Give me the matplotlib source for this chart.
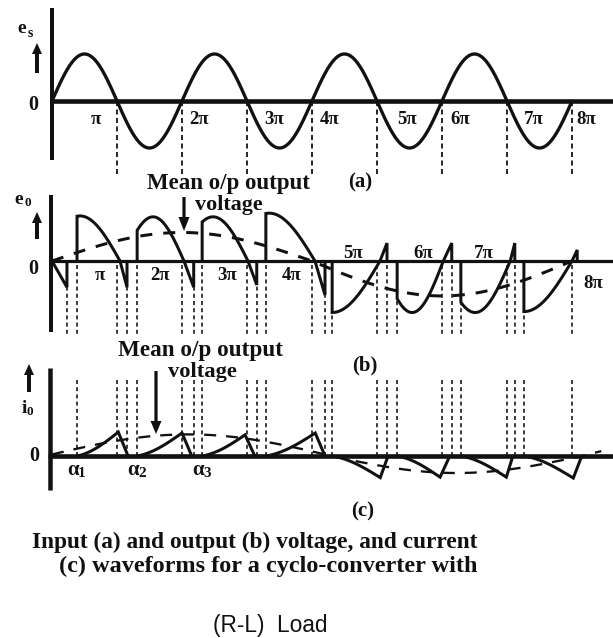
import numpy as np
import matplotlib
matplotlib.use('Agg')
import matplotlib.pyplot as plt
from matplotlib.patches import FancyArrow

W, H, DPI = 613, 638, 100
plt.rcParams['lines.scale_dashes'] = False
plt.rcParams['lines.solid_capstyle'] = 'butt'
PX = 72.0 / DPI          # points per pixel

# ------------------------------------------------------------------ data
# angles are in multiples of pi
pi_labels = ['π', '2π', '3π', '4π', '5π', '6π', '7π', '8π']

# (a) input voltage
n_half_cycles = 8
input_amp = 1.0
a_label_x = [0.68, 2.27, 3.42, 4.27, 5.46, 6.28, 7.42, 8.22]
a_label_y = -0.49

# (b) output voltage: one segment per input half cycle
tail0_end, tail0_val = 0.23, -0.57
seg_fire = [0.385, 1.31, 2.31, 3.29, 4.31, 5.31, 6.29, 7.26]
seg_peak = [0.43, 1.554, 2.477, 3.34, 4.31, 5.54, 6.51, 7.26]
seg_zero = [1.046, 2.03, 3.015, 4.046, 5.046, 6.02, 7.05, 8.0]
seg_end = [1.154, 2.18, 3.15, 4.2, 5.154, 6.15, 7.12, 8.08]
seg_amp = [0.98, 0.96, 0.96, 1.04, -1.12, -1.12, -1.12, -1.1]
seg_end_val = [-0.57, -0.57, -0.52, -0.74, 0.39, 0.39, 0.39, 0.24]
vmean_zeros = [0.0, 4.0, 8.0]
vmean_amp = [0.62, -0.76]
b_label_x = [0.74, 1.66, 2.69, 3.69, 4.63, 5.71, 6.64, 8.32]
b_label_y = [-0.41, -0.41, -0.41, -0.41, 0.07, 0.07, 0.07, -0.59]

# (c) output current
cur_peak_at = [1.02, 2.0, 2.97, 4.05, 5.05, 5.97, 6.99, 8.02]
cur_end = [1.17, 2.15, 3.12, 4.2, 5.17, 6.12, 7.09, 8.15]
cur_peak = [0.52, 0.5, 0.46, 0.5, -0.47, -0.46, -0.46, -0.48]
imean_zeros = [-0.1, 4.3, 8.15, 12.3]
imean_amp = [0.47, -0.37, 0.47]
imean_span = (0.0, 8.45)
alpha_labels = ['1', '2', '3']

caption = ['Input (a) and output (b) voltage, and current',
           '(c) waveforms for a cyclo-converter with',
           '(R-L)  Load']

# ------------------------------------------------------------------ layout
X0, PX_PI = 52, 65                      # pixel of theta=0, pixels per pi
ZERO = {'a': 101, 'b': 261, 'c': 456}   # pixel row of each zero line
UNIT = {'a': 47, 'b': 46, 'c': 46}      # pixels per unit amplitude
INK = '#111111'
SERIF = dict(family='Liberation Serif', weight='bold', color=INK)

fig = plt.figure(figsize=(W / DPI, H / DPI), dpi=DPI)
fig.patch.set_facecolor('white')
lay = fig.add_axes([0, 0, 1, 1])
lay.set_xlim(0, W)
lay.set_ylim(H, 0)
lay.axis('off')


def panel(key):
    ax = fig.add_axes([0, 0, 1, 1])
    ax.set_xlim(-X0 / PX_PI, (W - X0) / PX_PI)
    ax.set_ylim((ZERO[key] - H) / UNIT[key], ZERO[key] / UNIT[key])
    ax.axis('off')
    ax.patch.set_visible(False)
    return ax


def v_of(key, px):        # pixel row -> panel value
    return (ZERO[key] - px) / UNIT[key]


ax_a, ax_b, ax_c = panel('a'), panel('b'), panel('c')
renderer = fig.canvas.get_renderer()


def fit_text(ax, x, y, s, width_px, **kw):
    t = ax.text(x, y, s, fontsize=10, **kw)
    w = t.get_window_extent(renderer).width
    t.set_fontsize(10 * width_px / w)
    return t


def up_arrow(x, tail, tip, shaft=4, hw=10, hl=11):
    lay.add_patch(FancyArrow(x, tail, 0, tip - tail, width=shaft, head_width=hw,
                             head_length=hl, length_includes_head=True,
                             color=INK, lw=0))


# ------------------------------------------------------------------ frames
for key, vx, vy, lw_v, lw_h in [('a', 52, (8, 160), 4, 4.6),
                                ('b', 51, (195, 332), 4, 3.2),
                                ('c', 50, (368, 490), 4.5, 4.6)]:
    lay.plot([vx, vx], vy, color=INK, lw=lw_v * PX, solid_capstyle='butt', zorder=5)
    lay.plot([vx - 2, W], [ZERO[key], ZERO[key]], color=INK, lw=lw_h * PX, zorder=5)

# ------------------------------------------------------------------ (a)
th = np.linspace(0, n_half_cycles, 1200)
ax_a.plot(th, input_amp * np.sin(np.pi * th), color=INK, lw=3.3 * PX, zorder=4)
for k in range(1, n_half_cycles + 1):
    ln, = ax_a.plot([k, k], [0, v_of('a', 175)], color=INK, lw=1.8 * PX)
    ln.set_dashes((5 * PX, 3.5 * PX))
for s, x in zip(pi_labels, a_label_x):
    ax_a.text(x, a_label_y, s, ha='center', va='baseline', fontsize=13.5, **SERIF)

# ------------------------------------------------------------------ (b)
wave_kw = dict(color=INK, lw=3 * PX, zorder=4, solid_joinstyle='miter')
ax_b.plot([0, tail0_end, tail0_end], [0, tail0_val, 0], **wave_kw)
for f, p, z, e, A, ev in zip(seg_fire, seg_peak, seg_zero, seg_end, seg_amp, seg_end_val):
    t = np.linspace(f, z, 80)
    y = A * np.cos(np.pi / 2 * (t - p) / (z - p))
    ax_b.plot(np.r_[f, t, e, e], np.r_[0, y, ev, 0], **wave_kw)

tm = np.linspace(vmean_zeros[0], vmean_zeros[-1], 600)
idx = np.clip(np.searchsorted(vmean_zeros, tm, side='right') - 1, 0, len(vmean_amp) - 1)
z0 = np.array(vmean_zeros)[idx]
z1 = np.array(vmean_zeros)[idx + 1]
ym = np.array(vmean_amp)[idx] * np.sin(np.pi * (tm - z0) / (z1 - z0))
ln, = ax_b.plot(tm, ym, color=INK, lw=3 * PX, zorder=3)
ln.set_dashes((12 * PX, 11 * PX))

b_lines = [tail0_end] + seg_fire + list(range(1, 9)) + seg_end[:-1]
for x in b_lines:
    ln, = ax_b.plot([x, x], [v_of('b', 265), v_of('b', 336)], color=INK, lw=1.6 * PX)
    ln.set_dashes((4 * PX, 3.2 * PX))
for s, x, y in zip(pi_labels, b_label_x, b_label_y):
    ax_b.text(x, y, s, ha='center', va='baseline', fontsize=13.5, **SERIF)

# ------------------------------------------------------------------ (c)
for f, pk, e, ip in zip(seg_fire, cur_peak_at, cur_end, cur_peak):
    t = np.linspace(f, pk, 60)
    s = (t - f) / (pk - f)
    y = ip * (0.35 * s + 0.65 * (1 - np.cos(np.pi / 2 * s)))
    ax_c.plot(np.r_[t, e], np.r_[y, 0], **wave_kw)

tm = np.linspace(imean_span[0], imean_span[1], 600)
idx = np.clip(np.searchsorted(imean_zeros, tm, side='right') - 1, 0, len(imean_amp) - 1)
z0 = np.array(imean_zeros)[idx]
z1 = np.array(imean_zeros)[idx + 1]
ym = np.array(imean_amp)[idx] * np.sin(np.pi * (tm - z0) / (z1 - z0))
ln, = ax_c.plot(tm, ym, color=INK, lw=2.3 * PX, zorder=3)
ln.set_dashes((12 * PX, 10 * PX))

c_lines = seg_fire + list(range(1, 9)) + seg_end[:-1]
for x in c_lines:
    ln, = ax_c.plot([x, x], [v_of('c', 380), 0], color=INK, lw=1.6 * PX)
    ln.set_dashes((4 * PX, 3.2 * PX))
for f, s in zip(seg_fire[:3], alpha_labels):
    ax_c.text(f - 4 / PX_PI, v_of('c', 475), 'α', ha='center', va='baseline',
              fontsize=15, **SERIF)
    ax_c.text(f + 5 / PX_PI, v_of('c', 477), s, ha='center', va='baseline',
              fontsize=11, **SERIF)

# ------------------------------------------------------------------ labels
lay.text(22, 33, 'e', ha='center', va='baseline', fontsize=14, **SERIF)
lay.text(30, 37, 's', ha='center', va='baseline', fontsize=10, **SERIF)
up_arrow(37, 73, 43)
lay.text(33, 110, '0', ha='center', va='baseline', fontsize=14.5, **SERIF)
lay.text(360, 187, '(a)', ha='center', va='baseline', fontsize=15, **SERIF)

lay.text(19, 204, 'e', ha='center', va='baseline', fontsize=14, **SERIF)
lay.text(28, 206, '0', ha='center', va='baseline', fontsize=9.5, **SERIF)
up_arrow(37, 239, 212)
lay.text(33, 274, '0', ha='center', va='baseline', fontsize=14.5, **SERIF)
t = fit_text(lay, 228, 189, 'Mean o/p output', 163, ha='center', va='baseline', **SERIF)
lay.text(229, 210, 'voltage', ha='center', va='baseline', fontsize=t.get_fontsize() * 0.97, **SERIF)
up_arrow(184, 197, 231, shaft=3.2, hw=11, hl=14)
lay.text(365, 370, '(b)', ha='center', va='baseline', fontsize=15, **SERIF)

lay.text(24, 413, 'i', ha='center', va='baseline', fontsize=14, **SERIF)
lay.text(30, 415, '0', ha='center', va='baseline', fontsize=9.5, **SERIF)
up_arrow(29, 392, 364)
lay.text(34, 461, '0', ha='center', va='baseline', fontsize=14.5, **SERIF)
t = fit_text(lay, 201, 356, 'Mean o/p output', 165, ha='center', va='baseline', **SERIF)
lay.text(202, 377, 'voltage', ha='center', va='baseline', fontsize=t.get_fontsize() * 0.97, **SERIF)
up_arrow(156, 371, 434, shaft=3.2, hw=11, hl=13)
lay.text(363, 516, '(c)', ha='center', va='baseline', fontsize=15, **SERIF)

# ------------------------------------------------------------------ caption
fit_text(lay, 32, 548, caption[0], 448, ha='left', va='baseline', **SERIF)
fit_text(lay, 59, 572, caption[1], 421, ha='left', va='baseline', **SERIF)
fit_text(lay, 213, 632, caption[2], 115, ha='left', va='baseline',
         family='Liberation Sans', color=INK)

fig.savefig('out.png', dpi=DPI, facecolor='white')
